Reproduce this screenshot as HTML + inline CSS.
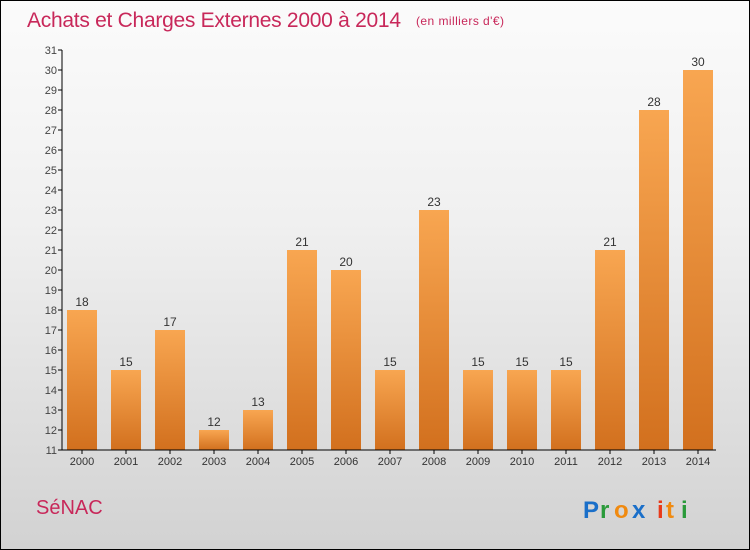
<!DOCTYPE html>
<html><head><meta charset="utf-8"><style>
html,body{margin:0;padding:0}
body{width:750px;height:550px;overflow:hidden;font-family:"Liberation Sans",sans-serif}
#wrap{position:absolute;left:0;top:0;width:748px;height:548px;border:1px solid #000;background:linear-gradient(#fbfbfb,#f0f0f0 40%,#d2d2d2)}
</style></head><body>
<div id="wrap">
<svg width="750" height="550" style="position:absolute;left:-1px;top:-1px" id="svg">
<defs><linearGradient id="bg" x1="0" y1="0" x2="0" y2="1"><stop offset="0" stop-color="#f8a651"/><stop offset="1" stop-color="#d2701e"/></linearGradient></defs>
<text x="27" y="27" font-size="21" fill="#c8285a" textLength="374">Achats et Charges Externes 2000 à 2014</text>
<text x="416" y="25" font-size="12" fill="#c8285a" textLength="88">(en milliers d'€)</text>
<text x="36" y="514" font-size="20" fill="#c8285a">SéNAC</text>
<g font-size="24" font-weight="bold">
<text x="583" y="518" fill="#1a6fc9">P</text><text x="600" y="518" fill="#2a9a3a">r</text><text x="614" y="518" fill="#f08a10">o</text><text x="632" y="518" fill="#1a6fc9">x</text><text x="657" y="518" fill="#e83a1a">i</text><text x="666" y="518" fill="#f08a10">t</text><text x="681" y="518" fill="#2a9a3a">i</text></g>
<g id="plot"></g>
</svg></div>
<script>
const categories=["2000","2001","2002","2003","2004","2005","2006","2007","2008","2009","2010","2011","2012","2013","2014"];
const values=[18,15,17,12,13,21,20,15,23,15,15,15,21,28,30];
const yTicks=[11,12,13,14,15,16,17,18,19,20,21,22,23,24,25,26,27,28,29,30,31];
const yMin=11,yMax=31,y0=450,y1=50,x0=62;
const y=v=>y0-(v-yMin)/(yMax-yMin)*(y0-y1);
const xb=i=>67+i*44;
const g=document.getElementById('plot');const NS='http://www.w3.org/2000/svg';
function mk(t,a,txt){const e=document.createElementNS(NS,t);for(const k in a)e.setAttribute(k,a[k]);if(txt!=null)e.textContent=txt;g.appendChild(e);return e;}
values.forEach((v,i)=>{
 const r=mk('rect',{x:xb(i),y:y(v),width:30,height:y0-y(v),fill:'url(#bg)'});
 
 
 const t=mk('text',{x:xb(i)+15,y:y(v)-4,'text-anchor':'middle','font-size':12,fill:'#333'},v);
 
 
 const c=mk('text',{x:xb(i)+15,y:465,'text-anchor':'middle','font-size':11,fill:'#333'},categories[i]);
 
 
 mk('line',{x1:xb(i)+15,x2:xb(i)+15,y1:y0,y2:y0+4,stroke:'#000'});
});
yTicks.forEach(v=>{
 mk('line',{x1:x0-4,x2:x0,y1:y(v),y2:y(v),stroke:'#000'});
 const t=mk('text',{x:x0-5,y:y(v)+4,'text-anchor':'end','font-size':11,fill:'#444'},v);
 
 
});
const ya=mk('line',{x1:x0,x2:x0,y1:y1,y2:y0,stroke:'#000'});


const xa=mk('line',{x1:x0,x2:716,y1:y0,y2:y0,stroke:'#000'});


</script>
</body></html>
